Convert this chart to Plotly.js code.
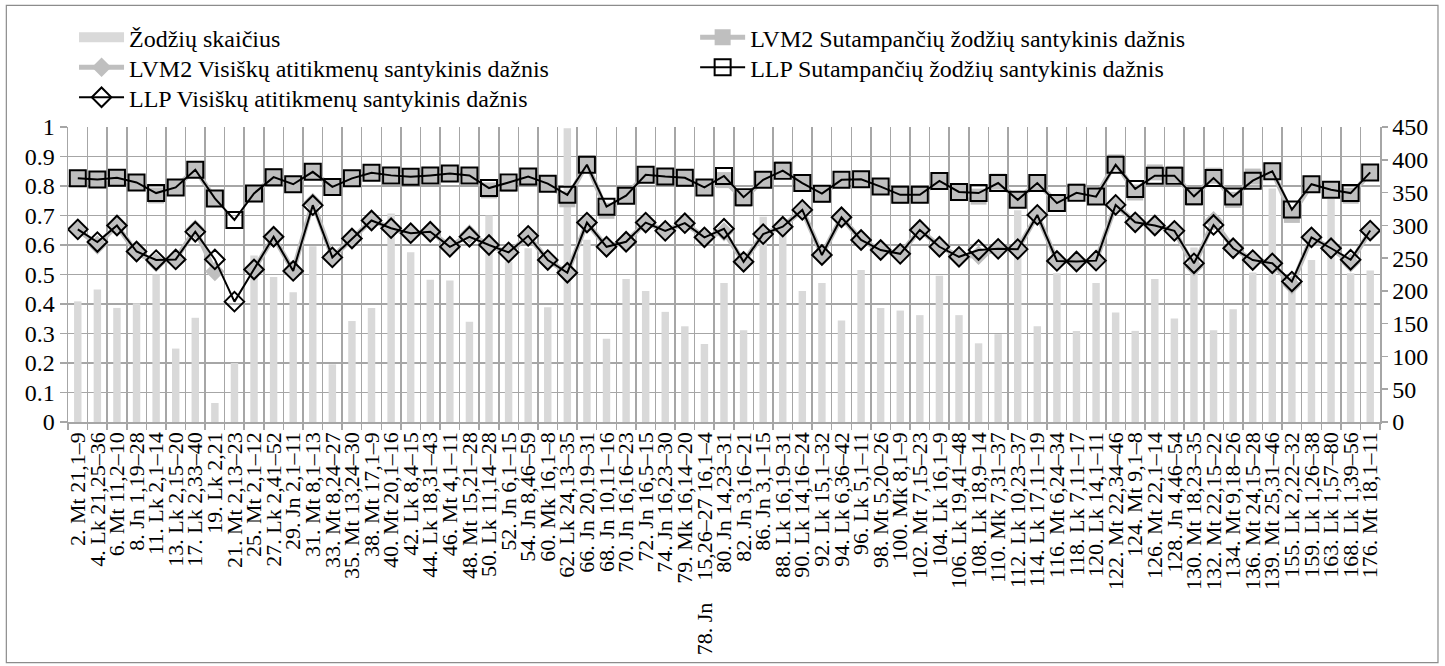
<!DOCTYPE html>
<html>
<head>
<meta charset="utf-8">
<script src="https://cdn.plot.ly/plotly-3.0.1.min.js"></script>
<style>
  html, body { margin: 0; padding: 0; background: #fff; }
  #chart { width: 1445px; height: 666px; }
</style>
</head>
<body>
<div id="chart"></div>
<script>
const categories = [
  "2. Mt 21,1–9", "4. Lk 21,25–36", "6. Mt 11,2–10", "8. Jn 1,19–28", "11. Lk 2,1–14",
  "13. Lk 2,15–20", "17. Lk 2,33–40", "19. Lk 2,21", "21. Mt 2,13–23", "25. Mt 2,1–12",
  "27. Lk 2,41–52", "29. Jn 2,1–11", "31. Mt 8,1–13", "33. Mt 8,24–27", "35. Mt 13,24–30",
  "38. Mt 17,1–9", "40. Mt 20,1–16", "42. Lk 8,4–15", "44. Lk 18,31–43", "46. Mt 4,1–11",
  "48. Mt 15,21–28", "50. Lk 11,14–28", "52. Jn 6,1–15", "54. Jn 8,46–59", "60. Mk 16,1–8",
  "62. Lk 24,13–35", "66. Jn 20,19–31", "68. Jn 10,11–16", "70. Jn 16,16–23", "72. Jn 16,5–15",
  "74. Jn 16,23–30", "79. Mk 16,14–20", "78. Jn\u00A0\u00A0\u00A0 15,26–27 16,1–4", "80. Jn 14,23–31", "82. Jn 3,16–21",
  "86. Jn 3,1–15", "88. Lk 16,19–31", "90. Lk 14,16–24", "92. Lk 15,1–32", "94. Lk 6,36–42",
  "96. Lk 5,1–11", "98. Mt 5,20–26", "100. Mk 8,1–9", "102. Mt 7,15–23", "104. Lk 16,1–9",
  "106. Lk 19,41–48", "108. Lk 18,9–14", "110. Mk 7,31–37", "112. Lk 10,23–37", "114. Lk 17,11–19",
  "116. Mt 6,24–34", "118. Lk 7,11–17", "120. Lk 14,1–11", "122. Mt 22,34–46", "124. Mt 9,1–8",
  "126. Mt 22,1–14", "128. Jn 4,46–54", "130. Mt 18,23–35", "132. Mt 22,15–22", "134. Mt 9,18–26",
  "136. Mt 24,15–28", "139. Mt 25,31–46", "155. Lk 2,22–32", "159. Lk 1,26–38", "163. Lk 1,57–80",
  "168. Lk 1,39–56", "176. Mt 18,1–11"
];

const words = [184,202,174,181,225,112,159,29,90,254, 221,198,268,88,154,174,318,259,217,216,
  153,315,245,265,175,448,278,127,218,200, 168,146,119,212,140,313,290,200,212,155,
  232,174,170,163,223,163,120,134,323,146, 227,139,212,167,139,218,158,266,140,172,
  228,356,215,247,340,227,231];

const lvm2Sut = [0.826,0.822,0.828,0.812,0.768,0.795,0.857,0.756,null,0.772, 0.833,0.804,0.849,0.796,0.827,0.846,0.838,0.832,0.838,0.844,
  0.836,0.785,0.807,0.832,0.807,0.755,0.877,0.716,0.767,0.841, 0.832,0.829,0.793,0.820,0.756,0.821,0.857,0.810,0.770,0.821,
  0.823,0.798,0.767,0.770,0.817,0.776,0.764,0.815,0.753,0.813, 0.742,0.781,0.764,0.880,0.778,0.846,0.841,0.760,0.835,0.753,
  0.832,0.852,0.702,0.806,0.787,0.767,0.846];

const lvm2Vis = [0.653,0.600,0.666,0.574,0.541,0.551,0.653,0.510,null,0.517, 0.628,0.512,0.744,0.558,0.622,0.683,0.657,0.635,0.648,0.594,
  0.637,0.600,0.572,0.631,0.549,0.506,0.676,0.594,0.611,0.676, 0.648,0.674,0.626,0.645,0.543,0.637,0.662,0.719,0.566,0.694,
  0.617,0.583,0.570,0.651,0.597,0.560,0.565,0.587,0.586,0.702, 0.546,0.544,0.547,0.736,0.677,0.666,0.648,0.527,0.682,0.589,
  0.549,0.538,0.464,0.626,0.589,0.540,0.649];

const llpSut = [0.826,0.822,0.828,0.812,0.776,0.795,0.855,0.758,0.685,0.775, 0.830,0.806,0.848,0.797,0.826,0.845,0.836,0.831,0.836,0.842,
  0.836,0.793,0.812,0.832,0.808,0.770,0.872,0.730,0.767,0.838, 0.832,0.828,0.795,0.834,0.762,0.821,0.852,0.810,0.774,0.821,
  0.823,0.798,0.770,0.770,0.817,0.780,0.776,0.810,0.753,0.810, 0.742,0.777,0.764,0.872,0.790,0.835,0.835,0.765,0.827,0.764,
  0.818,0.850,0.720,0.806,0.787,0.776,0.846];

const llpVis = [0.653,0.610,0.666,0.578,0.549,0.551,0.645,0.551,0.408,0.517, 0.628,0.512,0.735,0.558,0.622,0.683,0.657,0.640,0.645,0.594,
  0.628,0.600,0.575,0.631,0.549,0.506,0.676,0.594,0.611,0.676, 0.648,0.674,0.626,0.655,0.543,0.637,0.662,0.719,0.566,0.694,
  0.617,0.583,0.570,0.651,0.594,0.560,0.583,0.587,0.586,0.702, 0.546,0.544,0.547,0.736,0.677,0.666,0.648,0.538,0.668,0.589,
  0.549,0.538,0.476,0.626,0.589,0.550,0.649];

const seriesNames = [
  "Žodžių skaičius",
  "LVM2 Sutampančių žodžių santykinis dažnis",
  "LVM2 Visiškų atitikmenų santykinis dažnis",
  "LLP Sutampančių žodžių santykinis dažnis",
  "LLP Visiškų atitikmenų santykinis dažnis"
];

const FONT = "Liberation Serif";
const GRID = "#A6A6A6";
const BAR = "#D9D9D9";

const traces = [
  {
    type: "bar", name: seriesNames[0], x: categories, y: words, yaxis: "y", showlegend: false,
    marker: { color: BAR, line: { width: 0 } }
  },
  {
    // legend-only entry drawing the wide bar swatch of the original legend
    type: "scatter", mode: "lines", name: seriesNames[0], x: [categories[0]], y: [null], yaxis: "y",
    legend: "legend", line: { color: BAR, width: 10 }, hoverinfo: "skip"
  },
  {
    type: "scatter", mode: "lines+markers", name: seriesNames[1], x: categories, y: lvm2Sut, yaxis: "y2", legend: "legend2",
    line: { color: "#BFBFBF", width: 5 },
    marker: { symbol: "square", size: 16, color: "#BFBFBF", line: { width: 0 } },
    connectgaps: false
  },
  {
    type: "scatter", mode: "lines+markers", name: seriesNames[2], x: categories, y: lvm2Vis, yaxis: "y2", legend: "legend3",
    line: { color: "#BFBFBF", width: 5 },
    marker: { symbol: "diamond", size: 15, color: "#BFBFBF", line: { width: 0 } },
    connectgaps: false
  },
  {
    type: "scatter", mode: "lines+markers", name: seriesNames[3], x: categories, y: llpSut, yaxis: "y2", legend: "legend4",
    line: { color: "#000000", width: 2 },
    marker: { symbol: "square-open", size: 16, color: "#000000", line: { width: 2, color: "#000000" } }
  },
  {
    type: "scatter", mode: "lines+markers", name: seriesNames[4], x: categories, y: llpVis, yaxis: "y2", legend: "legend5",
    line: { color: "#000000", width: 2 },
    marker: { symbol: "diamond-open", size: 15, color: "#000000", line: { width: 2, color: "#000000" } }
  }
];

function leg(x, y) {
  return {
    orientation: "h", x: x, xanchor: "left", y: y, yanchor: "middle",
    font: { family: FONT, size: 24, color: "#000" },
    itemwidth: 45, bgcolor: "rgba(0,0,0,0)", borderwidth: 0
  };
}

const layout = {
  width: 1445, height: 666,
  margin: { l: 68, r: 65, t: 127, b: 244, pad: 0 },
  paper_bgcolor: "#ffffff", plot_bgcolor: "#ffffff",
  font: { family: FONT, size: 22, color: "#000" },
  bargap: 0.62,
  showlegend: true,
  legend: leg(0.0046, 1.3033),
  legend2: leg(0.478, 1.3033),
  legend3: leg(0.0046, 1.2014),
  legend4: leg(0.478, 1.2014),
  legend5: leg(0.0046, 1.0995),
  xaxis: {
    type: "category", tickangle: -90, tickmode: "linear", dtick: 1,
    tickson: "boundaries", ticks: "outside", ticklen: 6, tickcolor: GRID, tickwidth: 1.5,
    showgrid: true, gridcolor: GRID, gridwidth: 1.5,
    showline: true, linecolor: GRID, linewidth: 1.5,
    tickfont: { family: FONT, size: 22, color: "#000" },
    automargin: false, range: [-0.5, categories.length - 0.5]
  },
  yaxis: {
    side: "right", range: [0, 450], dtick: 50, tick0: 0,
    ticks: "outside", ticklen: 6, tickcolor: GRID, tickwidth: 1.5,
    showgrid: false, zeroline: false, showline: true, linecolor: GRID, linewidth: 1.5,
    tickfont: { family: FONT, size: 24, color: "#000" }, automargin: false
  },
  yaxis2: {
    side: "left", overlaying: "y", range: [0, 1], dtick: 0.1, tick0: 0,
    ticks: "outside", ticklen: 7, tickcolor: GRID, tickwidth: 1.5,
    showgrid: true, gridcolor: GRID, gridwidth: 1.5, zeroline: false,
    showline: true, linecolor: GRID, linewidth: 1.5,
    tickfont: { family: FONT, size: 24, color: "#000" }, automargin: false
  },
  shapes: [{
    type: "rect", xref: "paper", yref: "paper",
    x0: -0.047, x1: 1.0442, y0: -0.816, y1: 1.412,
    line: { color: "#8C8C8C", width: 1.2 }, fillcolor: "rgba(0,0,0,0)", layer: "below"
  }]
};

Plotly.newPlot("chart", traces, layout, { displayModeBar: false, staticPlot: true });
</script>
</body>
</html>
